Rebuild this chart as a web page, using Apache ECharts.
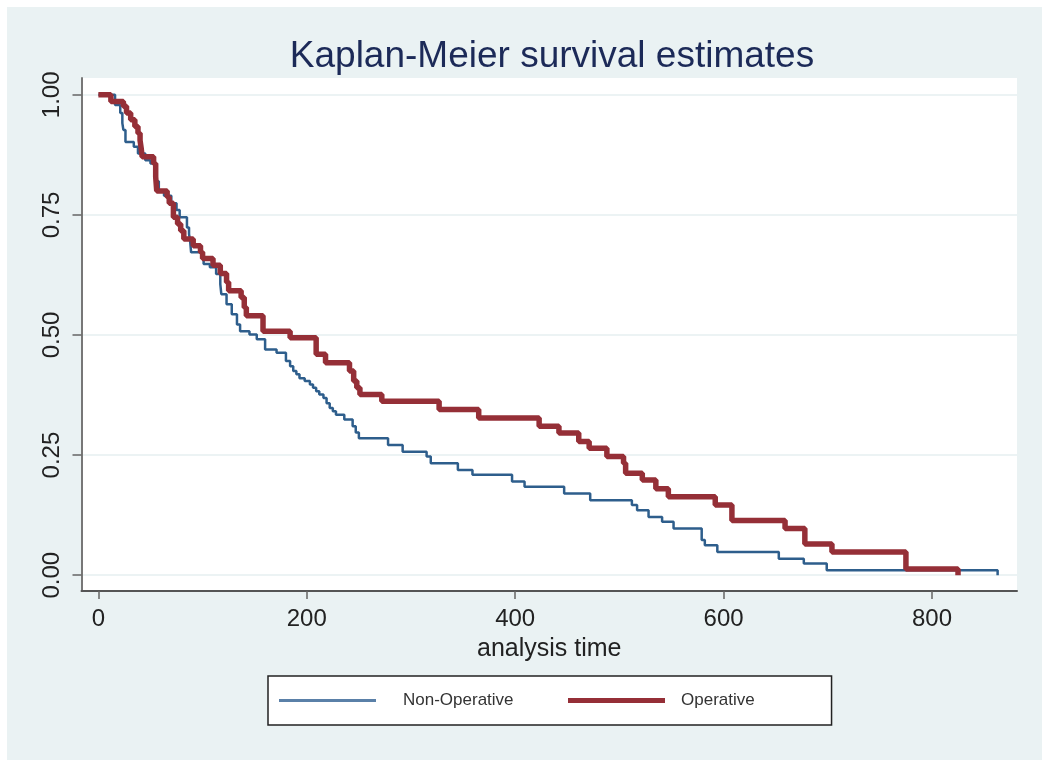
<!DOCTYPE html>
<html>
<head>
<meta charset="utf-8">
<title>Kaplan-Meier survival estimates</title>
<script src="https://cdn.jsdelivr.net/npm/echarts@6/dist/echarts.min.js"></script>
<style>
  body { margin: 0; background: #ffffff; }
  #main { position: absolute; left: 7px; top: 7px; width: 1035px; height: 753px; }
</style>
</head>
<body>
<div id="main"></div>
<script>
// tick labels
const xTicks = [0, 200, 400, 600, 800]
const yTicks = [0, 0.25, 0.5, 0.75, 1]

// Non-Operative: event times and survival after each step
const nonOpTime = [0, 16, 21, 23, 24, 26, 34, 38, 45, 50, 54, 56, 58, 63, 70, 75, 78, 85, 87, 88, 89,
  101, 107, 113, 117, 118, 123, 128, 133, 136, 145, 152, 160, 171, 180, 184, 187, 190, 193, 198,
  203, 206, 209, 212, 216, 219, 222, 225, 228, 236, 244, 247, 250, 278, 292, 315, 319, 345, 359,
  397, 409, 447, 472, 512, 517, 528, 541, 552, 579, 582, 594, 653, 677, 699, 863]
const nonOpSurv = [1.0, 0.979, 0.962, 0.941, 0.927, 0.902, 0.892, 0.878, 0.864, 0.857, 0.843, 0.82, 0.8,
  0.79, 0.774, 0.76, 0.745, 0.724, 0.71, 0.697, 0.672,
  0.648, 0.641, 0.627, 0.606, 0.585, 0.564, 0.543, 0.522, 0.508, 0.501, 0.491, 0.47, 0.463, 0.446,
  0.435, 0.425, 0.418, 0.41, 0.404,
  0.397, 0.39, 0.383, 0.376, 0.369, 0.358, 0.348, 0.341, 0.334, 0.324, 0.31, 0.297, 0.285, 0.271,
  0.257, 0.247, 0.233, 0.219, 0.209,
  0.195, 0.184, 0.17, 0.156, 0.146, 0.135, 0.121, 0.111, 0.097, 0.073, 0.062, 0.048, 0.034, 0.024,
  0.01, 0.0]

// Operative
const opTime = [0, 12, 24, 27, 31, 35, 38, 40, 41, 42, 53, 55, 56, 66, 68, 72, 76, 79, 82, 91, 98, 100,
  110, 117, 123, 125, 137, 140, 142, 158, 184, 209, 218, 241, 245, 248, 251, 272, 327, 365, 423,
  442, 461, 471, 488, 504, 506, 522, 535, 547, 592, 608, 659, 678, 704, 775, 825]
const opSurv = [1.0, 0.986, 0.976, 0.962, 0.948, 0.934, 0.92, 0.905, 0.89, 0.871, 0.857, 0.829, 0.8,
  0.787, 0.774, 0.745, 0.731, 0.717, 0.7, 0.686, 0.672, 0.659,
  0.645, 0.628, 0.61, 0.592, 0.578, 0.557, 0.54, 0.508, 0.494, 0.46, 0.442, 0.425, 0.404, 0.39, 0.376,
  0.362, 0.345, 0.327, 0.31,
  0.296, 0.278, 0.264, 0.247, 0.233, 0.212, 0.198, 0.18, 0.163, 0.146, 0.114, 0.097, 0.065, 0.048,
  0.013, 0.0]

const nonOpData = nonOpTime.map((t, i) => [t, nonOpSurv[i]])
const opData = opTime.map((t, i) => [t, opSurv[i]])

const blue = '#2e5e8c'
const red = '#952f37'
const font = 'Liberation Sans, Arial, sans-serif'

const chart = echarts.init(document.getElementById('main'))

chart.setOption({
  animation: false,
  backgroundColor: '#eaf2f3',
  textStyle: { fontFamily: font },
  title: {
    text: 'Kaplan-Meier survival estimates',
    left: 540,
    textAlign: 'center',
    top: 26,
    textStyle: {
      fontSize: 37,
      fontWeight: 'normal',
      color: '#1c2a58',
    },
  },
  // two legends: the first one draws the box, the second sits inside it
  legend: [
    {
      left: 261,
      top: 669,
      backgroundColor: '#ffffff',
      borderColor: '#222222',
      borderWidth: 1.5,
      borderRadius: 0,
      padding: [16, 318, 16, 11],
      icon: 'rect',
      itemWidth: 97,
      itemHeight: 3,
      textStyle: { fontSize: 17, color: '#333333', fontFamily: font, padding: [0, 0, 0, 22] },
      data: [{ name: 'Non-Operative', itemStyle: { color: '#5a80a8' } }],
    },
    {
      left: 561,
      top: 685,
      padding: 0,
      icon: 'rect',
      itemWidth: 97,
      itemHeight: 5,
      textStyle: { fontSize: 17, color: '#333333', fontFamily: font, padding: [0, 0, 0, 11] },
      data: [{ name: 'Operative', itemStyle: { color: red } }],
    },
  ],
  grid: {
    left: 74.5,
    top: 71,
    right: 25,
    bottom: 169,
    show: true,
    backgroundColor: '#ffffff',
    borderWidth: 0,
  },
  xAxis: {
    type: 'value',
    min: -16.2,
    max: 881.6,
    name: 'analysis time',
    nameLocation: 'middle',
    nameGap: 46,
    nameTextStyle: { fontSize: 25, color: '#222222' },
    axisLine: { show: true, onZero: false, lineStyle: { color: '#555555', width: 2 } },
    axisTick: { show: true, length: 8, customValues: xTicks, lineStyle: { color: '#666666', width: 1.5 } },
    axisLabel: { customValues: xTicks, margin: 16, fontSize: 24, color: '#222222' },
    splitLine: { show: false },
  },
  yAxis: {
    type: 'value',
    min: -0.033,
    max: 1.035,
    axisLine: { show: true, onZero: false, lineStyle: { color: '#777777', width: 2 } },
    axisTick: { show: true, length: 9, customValues: yTicks, lineStyle: { color: '#666666', width: 1.5 } },
    axisLabel: {
      customValues: yTicks,
      rotate: 90,
      margin: 17,
      fontSize: 24,
      color: '#222222',
      formatter: (v) => v.toFixed(2),
    },
    splitLine: { show: true, lineStyle: { color: '#e6eff1', width: 1.5 } },
  },
  series: [
    {
      name: 'Non-Operative',
      type: 'line',
      step: 'end',
      symbol: 'none',
      showSymbol: false,
      color: blue,
      lineStyle: { width: 2.5, color: blue },
      data: nonOpData,
    },
    {
      name: 'Operative',
      type: 'line',
      step: 'end',
      symbol: 'none',
      showSymbol: false,
      color: red,
      lineStyle: { width: 5.5, color: red },
      data: opData,
    },
  ],
})
</script>
</body>
</html>
